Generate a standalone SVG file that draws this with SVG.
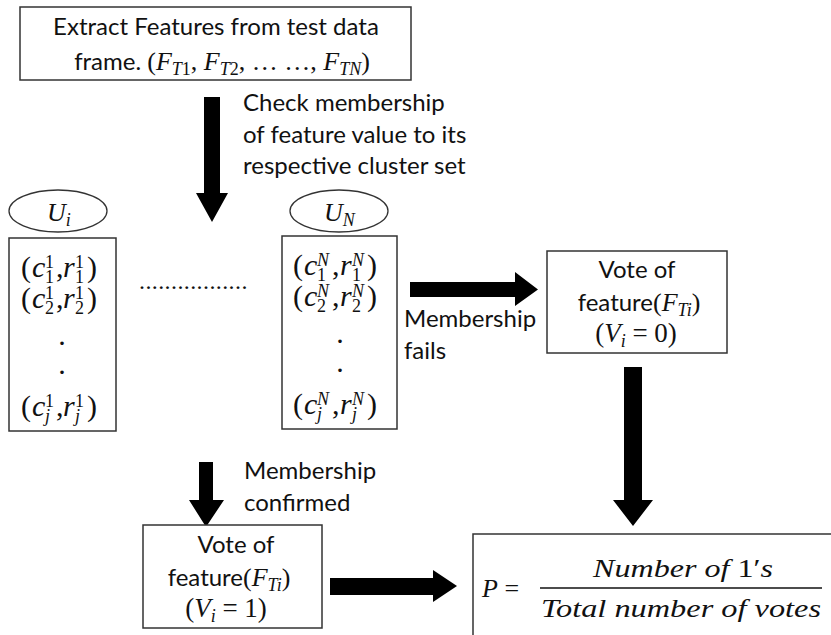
<svg xmlns="http://www.w3.org/2000/svg" width="831" height="635" viewBox="0 0 831 635">
  <defs>
    <style>
      .box { fill: #fff; stroke: #333; stroke-width: 1.5; }
      .oval { fill: #fff; stroke: #333; stroke-width: 1.3; }
      .arrow { fill: #000; stroke: none; }
      .txt { font-family: Lato, "Liberation Sans", sans-serif; font-size: 24px; fill: #111; }
      .m { font-family: "Liberation Serif", "DejaVu Serif", serif; fill: #111; }
      .mi { font-family: "Liberation Serif", "DejaVu Serif", serif; font-style: italic; fill: #111; }
      .row { font-family: "Liberation Serif", "DejaVu Serif", serif; font-size: 30px; fill: #111; }
      .sc { font-size: 18px; }
      .it { font-style: italic; }
    </style>
  </defs>
  <rect width="831" height="635" fill="#fff"/>

  <!-- connectors: block arrows -->
  <g id="connectors">
    <polygon class="arrow" points="204,97 220,97 220,193 228,193 212,222 196,193 204,193"/>
    <polygon class="arrow" points="410,282 515,282 515,272 538,289.5 515,306 515,297 410,297"/>
    <polygon class="arrow" points="624,367 642,367 642,500 653,500 633,526 613,500 624,500"/>
    <polygon class="arrow" points="199,462 213,462 213,500 224,500 206,527 189,500 199,500"/>
    <polygon class="arrow" points="330,578 433,578 433,570 457,586 433,602 433,595 330,595"/>
  </g>

  <!-- feature extraction step -->
  <g id="extract">
    <rect class="box" x="20" y="7" width="391" height="73"/>
    <text class="txt" x="216" y="35" text-anchor="middle">Extract Features from test data</text>
    <text class="txt" x="222" y="70" text-anchor="middle">frame. <tspan class="m" font-size="26">(</tspan><tspan class="mi" font-size="26">F</tspan><tspan class="mi" font-size="18" dy="5">T</tspan><tspan class="m" font-size="18">1</tspan><tspan class="m" font-size="26" dy="-5">, </tspan><tspan class="mi" font-size="26">F</tspan><tspan class="mi" font-size="18" dy="5">T</tspan><tspan class="m" font-size="18">2</tspan><tspan class="m" font-size="26" dy="-5">, … …, </tspan><tspan class="mi" font-size="26">F</tspan><tspan class="mi" font-size="18" dy="5">TN</tspan><tspan class="m" font-size="26" dy="-5">)</tspan></text>
  </g>

  <g id="check-label">
    <text class="txt" x="243" y="111">Check membership</text>
    <text class="txt" x="243" y="143">of feature value to its</text>
    <text class="txt" x="243" y="174">respective cluster set</text>
  </g>

  <!-- cluster set U_i -->
  <g id="cluster-i">
    <ellipse class="oval" cx="58" cy="211" rx="49" ry="21"/>
    <text class="mi" font-size="26" x="47" y="221">U<tspan font-size="18" dy="5">i</tspan></text>
    <rect class="box" x="9" y="238" width="107" height="193"/>
    <text class="row"><tspan x="21" y="277">(</tspan><tspan class="it" x="32" y="277">c</tspan><tspan class="sc" x="45" y="268">1</tspan><tspan class="sc" x="45" y="283">1</tspan><tspan x="56" y="277">,</tspan><tspan class="it" x="63" y="277">r</tspan><tspan class="sc" x="75" y="268">1</tspan><tspan class="sc" x="75" y="283">1</tspan><tspan x="87" y="277">)</tspan></text>
    <text class="row"><tspan x="21" y="308">(</tspan><tspan class="it" x="32" y="308">c</tspan><tspan class="sc" x="45" y="299">1</tspan><tspan class="sc" x="45" y="314">2</tspan><tspan x="56" y="308">,</tspan><tspan class="it" x="63" y="308">r</tspan><tspan class="sc" x="75" y="299">1</tspan><tspan class="sc" x="75" y="314">2</tspan><tspan x="87" y="308">)</tspan></text>
    <text class="row" x="62" y="345" text-anchor="middle">.</text>
    <text class="row" x="62" y="374" text-anchor="middle">.</text>
    <text class="row"><tspan x="21" y="416">(</tspan><tspan class="it" x="32" y="416">c</tspan><tspan class="sc" x="45" y="407">1</tspan><tspan class="sc it" x="45" y="422">j</tspan><tspan x="56" y="416">,</tspan><tspan class="it" x="63" y="416">r</tspan><tspan class="sc" x="75" y="407">1</tspan><tspan class="sc it" x="75" y="422">j</tspan><tspan x="87" y="416">)</tspan></text>
  </g>

  <g id="ellipsis">
    <text class="m" font-size="24" x="139" y="289" letter-spacing="0.4">.................</text>
  </g>

  <!-- cluster set U_N -->
  <g id="cluster-n">
    <ellipse class="oval" cx="339" cy="211" rx="49" ry="21"/>
    <text class="mi" font-size="26" x="324" y="221">U<tspan font-size="18" dy="5">N</tspan></text>
    <rect class="box" x="282" y="236" width="115" height="193"/>
    <text class="row"><tspan x="293" y="275">(</tspan><tspan class="it" x="304" y="275">c</tspan><tspan class="sc it" x="317" y="266">N</tspan><tspan class="sc" x="317" y="281">1</tspan><tspan x="332" y="275">,</tspan><tspan class="it" x="340" y="275">r</tspan><tspan class="sc it" x="352" y="266">N</tspan><tspan class="sc" x="352" y="281">1</tspan><tspan x="367" y="275">)</tspan></text>
    <text class="row"><tspan x="293" y="306">(</tspan><tspan class="it" x="304" y="306">c</tspan><tspan class="sc it" x="317" y="297">N</tspan><tspan class="sc" x="317" y="312">2</tspan><tspan x="332" y="306">,</tspan><tspan class="it" x="340" y="306">r</tspan><tspan class="sc it" x="352" y="297">N</tspan><tspan class="sc" x="352" y="312">2</tspan><tspan x="367" y="306">)</tspan></text>
    <text class="row" x="340" y="343" text-anchor="middle">.</text>
    <text class="row" x="340" y="372" text-anchor="middle">.</text>
    <text class="row"><tspan x="293" y="414">(</tspan><tspan class="it" x="304" y="414">c</tspan><tspan class="sc it" x="317" y="405">N</tspan><tspan class="sc it" x="317" y="420">j</tspan><tspan x="332" y="414">,</tspan><tspan class="it" x="340" y="414">r</tspan><tspan class="sc it" x="352" y="405">N</tspan><tspan class="sc it" x="352" y="420">j</tspan><tspan x="367" y="414">)</tspan></text>
  </g>

  <g id="fails-label">
    <text class="txt" x="404" y="327">Membership</text>
    <text class="txt" x="404" y="359">fails</text>
  </g>

  <!-- vote when membership fails -->
  <g id="vote-zero">
    <rect class="box" x="547" y="251" width="180" height="102"/>
    <text class="txt" x="637" y="278" text-anchor="middle">Vote of</text>
    <text class="txt" x="639" y="311" text-anchor="middle">feature<tspan class="m" font-size="26">(</tspan><tspan class="mi" font-size="26">F</tspan><tspan class="mi" font-size="18" dy="5">Ti</tspan><tspan class="m" font-size="26" dy="-5">)</tspan></text>
    <text class="m" font-size="27" x="636" y="342" text-anchor="middle">(<tspan class="it">V</tspan><tspan class="it" font-size="18" dy="5">i</tspan><tspan dy="-5"> = 0)</tspan></text>
  </g>

  <g id="confirmed-label">
    <text class="txt" x="244" y="479">Membership</text>
    <text class="txt" x="244" y="511">confirmed</text>
  </g>

  <!-- vote when membership is confirmed -->
  <g id="vote-one">
    <rect class="box" x="143" y="525" width="179" height="103"/>
    <text class="txt" x="236" y="553" text-anchor="middle">Vote of</text>
    <text class="txt" x="229" y="586" text-anchor="middle">feature<tspan class="m" font-size="26">(</tspan><tspan class="mi" font-size="26">F</tspan><tspan class="mi" font-size="18" dy="5">Ti</tspan><tspan class="m" font-size="26" dy="-5">)</tspan></text>
    <text class="m" font-size="27" x="226" y="617" text-anchor="middle">(<tspan class="it">V</tspan><tspan class="it" font-size="18" dy="5">i</tspan><tspan dy="-5"> = 1)</tspan></text>
  </g>

  <!-- final score -->
  <g id="score">
    <rect class="box" x="473" y="534" width="360" height="110"/>
    <text class="m" font-size="26" x="482" y="597"><tspan class="it">P</tspan> =</text>
    <line x1="540" y1="588" x2="822" y2="588" stroke="#111" stroke-width="1.6"/>
    <text class="mi" font-size="26" x="683" y="577" text-anchor="middle" textLength="180" lengthAdjust="spacingAndGlyphs">Number of <tspan font-style="normal">1′</tspan>s</text>
    <text class="mi" font-size="26" x="681" y="617" text-anchor="middle" textLength="280" lengthAdjust="spacingAndGlyphs">Total number of votes</text>
  </g>
</svg>
